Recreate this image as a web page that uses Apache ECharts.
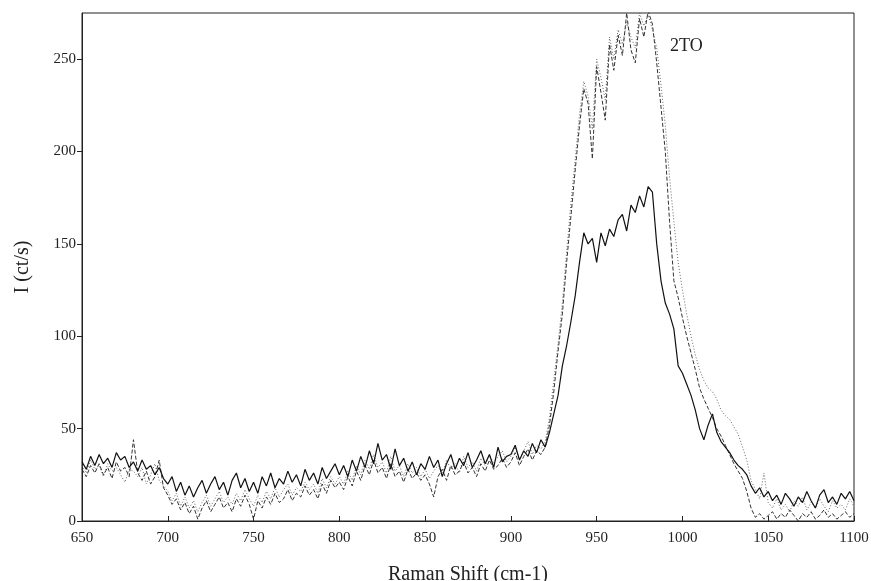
<!DOCTYPE html>
<html>
<head>
<meta charset="utf-8">
<title>Raman spectrum</title>
<script src="https://cdn.jsdelivr.net/npm/echarts@6/dist/echarts.min.js"></script>
<style>
  html, body { margin: 0; padding: 0; background: #fff; }
  #chart { width: 871px; height: 581px; }
</style>
</head>
<body>
<div id="chart"></div>
<script>
// Raman shift grid: 650 .. 1100 cm-1, one point every 2.5 cm-1
const shiftStart = 650
const shiftStep = 2.5

const xTicks = [650, 700, 750, 800, 850, 900, 950, 1000, 1050, 1100]
const yTicks = [0, 50, 100, 150, 200, 250]

// solid curve (ct/s)
const solidValues = [
  32, 28, 35, 30, 36, 31, 34, 29, 37, 33, 35, 29, 32, 27, 33, 28, 30, 25, 29, 23,
  20, 24, 16, 21, 14, 19, 13, 18, 22, 15, 20, 24, 17, 21, 14, 22, 26, 18, 23, 16,
  21, 15, 24, 19, 26, 18, 23, 20, 27, 21, 25, 19, 28, 22, 26, 20, 29, 23, 27, 31,
  25, 30, 24, 33, 27, 35, 29, 38, 31, 42, 33, 36, 28, 39, 30, 34, 27, 32, 25, 31,
  28, 35, 29, 33, 24, 31, 36, 28, 34, 30, 37, 29, 33, 38, 31, 36, 29, 40, 32, 35,
  36, 41, 33, 38, 35, 42, 37, 44, 40, 48, 58, 68, 84, 95, 108, 122, 140, 156, 150, 153,
  140, 156, 149, 158, 154, 163, 166, 157, 171, 167, 176, 170, 181, 178, 150, 130, 118, 112, 104, 84,
  80, 74, 68, 60, 50, 44, 52, 58, 48, 43, 40, 37, 33, 30, 28, 25, 19, 15, 18, 13,
  16, 11, 14, 9, 15, 12, 8, 13, 10, 16, 11, 7, 14, 17, 10, 13, 9, 15, 12, 16,
  11
]

// dashed curve (ct/s)
const dashedValues = [
  28, 24, 30, 26, 31, 25, 29, 23, 32, 27, 29, 24, 44, 26, 22, 27, 20, 24, 33, 18,
  14, 9, 12, 6, 10, 4, 8, 1, 7, 11, 5, 9, 13, 7, 10, 5, 12, 8, 14, 9,
  1, 11, 7, 13, 9, 15, 10, 12, 17, 11, 15, 13, 19, 14, 17, 12, 20, 15, 22, 18,
  21, 17, 24, 19, 27, 22, 30, 25, 33, 26, 29, 23, 31, 24, 27, 21, 28, 23, 26, 22,
  25, 20, 13, 24, 28, 22, 30, 25, 27, 32, 26, 29, 24, 31, 27, 33, 28, 30, 34, 29,
  32, 37, 30, 35, 39, 33, 38, 36, 40, 52, 70, 92, 112, 140, 165, 190, 214, 234, 226, 196,
  246, 232, 217, 258, 244, 263, 252, 275, 255, 248, 272, 262, 276, 269, 248, 224, 200, 162, 130, 121,
  110, 100, 91, 82, 72, 66, 61, 56, 50, 46, 41, 36, 31, 27, 23, 16, 7, 2, 4, 1,
  3, 5, 1, 4, 2, 6, 3, 0, 4, 2, 5, 1, 3, 6, 2, 4, 1, 3, 5, 2,
  4
]

// dotted curve (ct/s)
const dottedValues = [
  30, 26, 33, 28, 30, 24, 31, 27, 29, 25, 21, 28, 27, 24, 29, 20, 25, 31, 22, 19,
  16, 11, 15, 8, 13, 7, 11, 5, 10, 14, 8, 12, 16, 10, 13, 9, 15, 11, 17, 12,
  8, 14, 10, 16, 12, 18, 13, 17, 20, 14, 18, 16, 21, 17, 20, 15, 23, 18, 24, 20,
  24, 20, 27, 22, 30, 25, 33, 28, 36, 29, 32, 26, 35, 27, 30, 24, 31, 26, 29, 24,
  28, 23, 27, 30, 25, 33, 28, 31, 26, 35, 29, 32, 27, 34, 30, 36, 31, 35, 38, 32,
  35, 40, 33, 38, 43, 36, 41, 39, 43, 56, 76, 96, 118, 146, 172, 196, 220, 238, 230, 212,
  250, 240, 228, 262, 250, 266, 258, 270, 262, 256, 275, 268, 274, 266, 256, 236, 214, 186, 162, 140,
  125, 112, 100, 90, 82, 76, 72, 70, 66, 60, 57, 55, 51, 47, 40, 33, 22, 17, 12, 26,
  10, 7, 12, 6, 9, 5, 11, 8, 13, 6, 10, 7, 12, 8, 5, 11, 7, 9, 6, 12,
  8
]

const serifFont = '"Liberation Serif", "DejaVu Serif", serif'

function toPairs(values) {
  return values.map((v, i) => [shiftStart + i * shiftStep, v])
}

function lineSeries(name, values, lineType, color, width) {
  return {
    name: name,
    type: 'line',
    data: toPairs(values),
    showSymbol: false,
    symbol: 'none',
    silent: true,
    animation: false,
    lineStyle: {
      color: color,
      width: width,
      type: lineType
    }
  }
}

const chart = echarts.init(document.getElementById('chart'))
const option = {
  backgroundColor: '#ffffff',
  animation: false,
  grid: {
    left: 82,
    right: 17,
    top: 13,
    bottom: 60,
    containLabel: false,
    outerBoundsMode: 'none',
    show: true,
    borderColor: '#222',
    borderWidth: 1
  },
  xAxis: {
    type: 'value',
    min: xTicks[0],
    max: xTicks[xTicks.length - 1],
    interval: 50,
    name: 'Raman Shift (cm-1)',
    nameLocation: 'middle',
    nameGap: 44,
    nameTextStyle: { fontFamily: serifFont, fontSize: 20, color: '#222' },
    axisLine: { show: true, lineStyle: { color: '#222', width: 1 } },
    axisTick: { show: true, inside: true, length: 5, lineStyle: { color: '#222' } },
    axisLabel: {
      fontFamily: serifFont,
      fontSize: 15,
      color: '#222',
      margin: 10,
      formatter: function (v) { return String(v) }
    },
    splitLine: { show: false }
  },
  yAxis: {
    type: 'value',
    min: yTicks[0],
    max: 275,
    interval: 50,
    name: 'I (ct/s)',
    nameLocation: 'middle',
    nameGap: 49,
    nameTextStyle: { fontFamily: serifFont, fontSize: 20, color: '#222' },
    axisLine: { show: true, lineStyle: { color: '#222', width: 1 } },
    axisTick: {
      show: true,
      inside: false,
      length: 5,
      customValues: yTicks,
      lineStyle: { color: '#222' }
    },
    axisLabel: {
      fontFamily: serifFont,
      fontSize: 15,
      color: '#222',
      margin: 6,
      customValues: yTicks,
      formatter: function (v) { return String(v) }
    },
    splitLine: { show: false }
  },
  graphic: [
    {
      type: 'text',
      left: 670,
      top: 37,
      style: {
        text: '2TO',
        fontFamily: serifFont,
        fontSize: 18,
        fill: '#222'
      }
    }
  ],
  series: [
    lineSeries('dotted', dottedValues, [1, 2], '#666', 1),
    lineSeries('dashed', dashedValues, [4, 2], '#333', 1),
    lineSeries('solid', solidValues, 'solid', '#111', 1.2)
  ]
}
chart.setOption(option)
</script>
</body>
</html>
